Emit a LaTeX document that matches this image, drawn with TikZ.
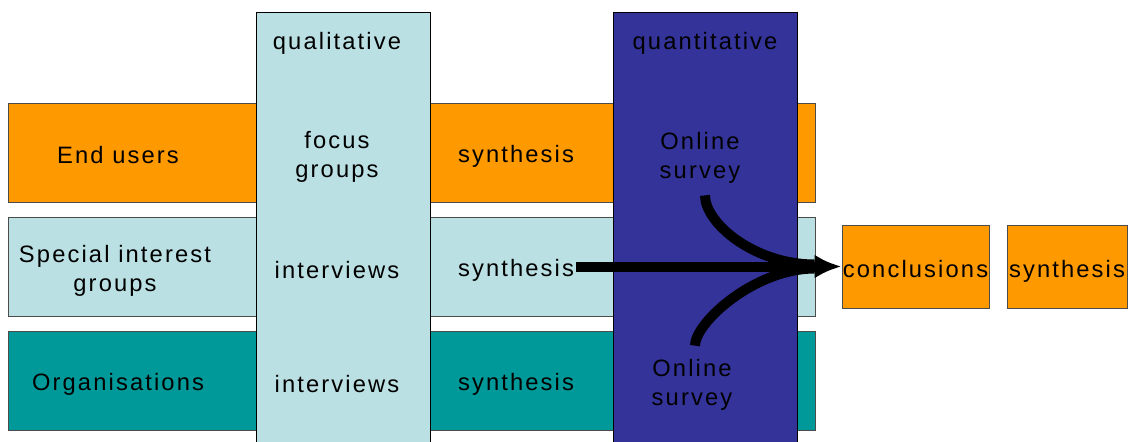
\documentclass[tikz,border=0pt]{standalone}
\usepackage{fontspec}
\setmainfont{Liberation Sans}[LetterSpace=9]
\usetikzlibrary{arrows.meta}
\definecolor{orangebar}{HTML}{FF9900}
\definecolor{palebar}{HTML}{BBE0E3}
\definecolor{tealbar}{HTML}{009999}
\definecolor{navybar}{HTML}{333399}

\begin{document}
\begin{tikzpicture}[x=0.02cm,y=0.02cm,>=Latex,font=\fontsize{13.5}{16.2}\selectfont,
  rowbar/.style={draw=black!70,line width=0.5pt},
  colbar/.style={draw=black,line width=0.5pt},
  lbl/.style={align=center,inner sep=1pt},
  outbox/.style={draw=black!70,line width=0.5pt,fill=orangebar,inner sep=0pt,
    text height=0.45cm,text depth=0pt,minimum height=1.66cm},
  flow/.style={line width=0.2cm}]
\useasboundingbox (0,0) rectangle (1131,441);
\clip (0,0) rectangle (1131,441);
% rows
\filldraw[rowbar,fill=orangebar] (8,338) rectangle (815,239);
\filldraw[rowbar,fill=palebar] (8,224) rectangle (815,125);
\filldraw[rowbar,fill=tealbar] (8,110) rectangle (815,11);
% columns
\filldraw[colbar,fill=palebar] (256,429) rectangle (430,-5);
\filldraw[colbar,fill=navybar] (613,429) rectangle (797,-5);
% labels
\node[lbl] (qual) at (337,398) {qualitative};
\node[lbl] (quant) at (705,398) {quantitative};
\node[lbl] (end) at (118,286) {End users};
\node[lbl] (spec) at (115,170) {Special interest\\groups};
\node[lbl] (org) at (118,57) {Organisations};
\node[lbl] (focus) at (337,284) {focus\\groups};
\node[lbl] (int1) at (337,171) {interviews};
\node[lbl] (int2) at (337,57) {interviews};
\node[lbl] (syn1) at (516,285) {synthesis};
\node[lbl] (syn2) at (516,171) {synthesis};
\node[lbl] (syn3) at (516,57) {synthesis};
\node[lbl] (su1) at (700,283) {Online\\survey};
\node[lbl] (su2) at (692,56) {Online\\survey};
\node[outbox,minimum width=2.94cm] (conc) at (915.5,174.5) {conclusions};
\node[outbox,minimum width=2.40cm] (syn4) at (1067,174.5) {synthesis};
% flows
\coordinate (merge) at ([xshift=-0.54cm]conc.west);
\draw[flow,-{Latex[length=0.54cm,width=0.48cm]}] (syn2.east |- conc.west) -- (conc.west);
\draw[flow,shorten <=0.2cm] ([xshift=0.1cm]su1.south) .. controls +(0,-38) and +(-60,0) .. ([yshift=0.04cm]merge);
\draw[flow,shorten <=0.24cm] ([xshift=0.06cm]su2.north) .. controls +(0,35) and +(-60,0) .. ([yshift=-0.04cm]merge);
\end{tikzpicture}
\end{document}
